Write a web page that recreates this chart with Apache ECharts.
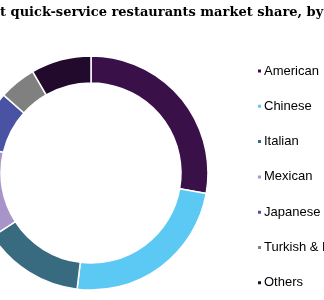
<!DOCTYPE html>
<html><head><meta charset="utf-8">
<script src="https://cdn.jsdelivr.net/npm/echarts@6/dist/echarts.min.js"></script>
<style>html,body{margin:0;padding:0;background:#fff}#c{width:324px;height:300px}</style>
</head><body><div id="c"></div>
<script>
var categories = ['American', 'Chinese', 'Italian', 'Mexican', 'Japanese', 'Turkish & Lebanese', 'Others'];
var shares = [27.8, 24.1, 14.0, 12.8, 7.9, 5.1, 8.3];
var colors = ['#3a1049', '#5bc9f3', '#386b7f', '#a894c8', '#4a52a3', '#808080', '#220a2d'];
var titleText = 'Kuwait quick-service restaurants market share, by cuisine, 2023 (%)';

var chart = echarts.init(document.getElementById('c'), null, {renderer: 'canvas'});
chart.setOption({
  animation: false,
  title: {
    text: titleText, left: -50, top: 1,
    textStyle: {fontFamily: 'DejaVu Serif', fontWeight: 'bold', fontSize: 13, color: '#000'}
  },
  legend: {
    orient: 'vertical', left: 251, top: 59, padding: 5,
    icon: 'rect', itemWidth: 5, itemHeight: 5, itemGap: 21.3,
    textStyle: {fontFamily: 'Liberation Sans', fontSize: 13, color: '#000', lineHeight: 14, padding: [0,0,0,-3]},
    data: categories
  },
  series: [{
    type: 'pie', center: [91, 173], radius: [90, 117], startAngle: 90, clockwise: true,
    label: {show: false}, labelLine: {show: false}, silent: true,
    itemStyle: {borderColor: '#fff', borderWidth: 1.5},
    data: categories.map(function (c, i) { return {name: c, value: shares[i], itemStyle: {color: colors[i]}}; })
  }]
});
</script></body></html>
